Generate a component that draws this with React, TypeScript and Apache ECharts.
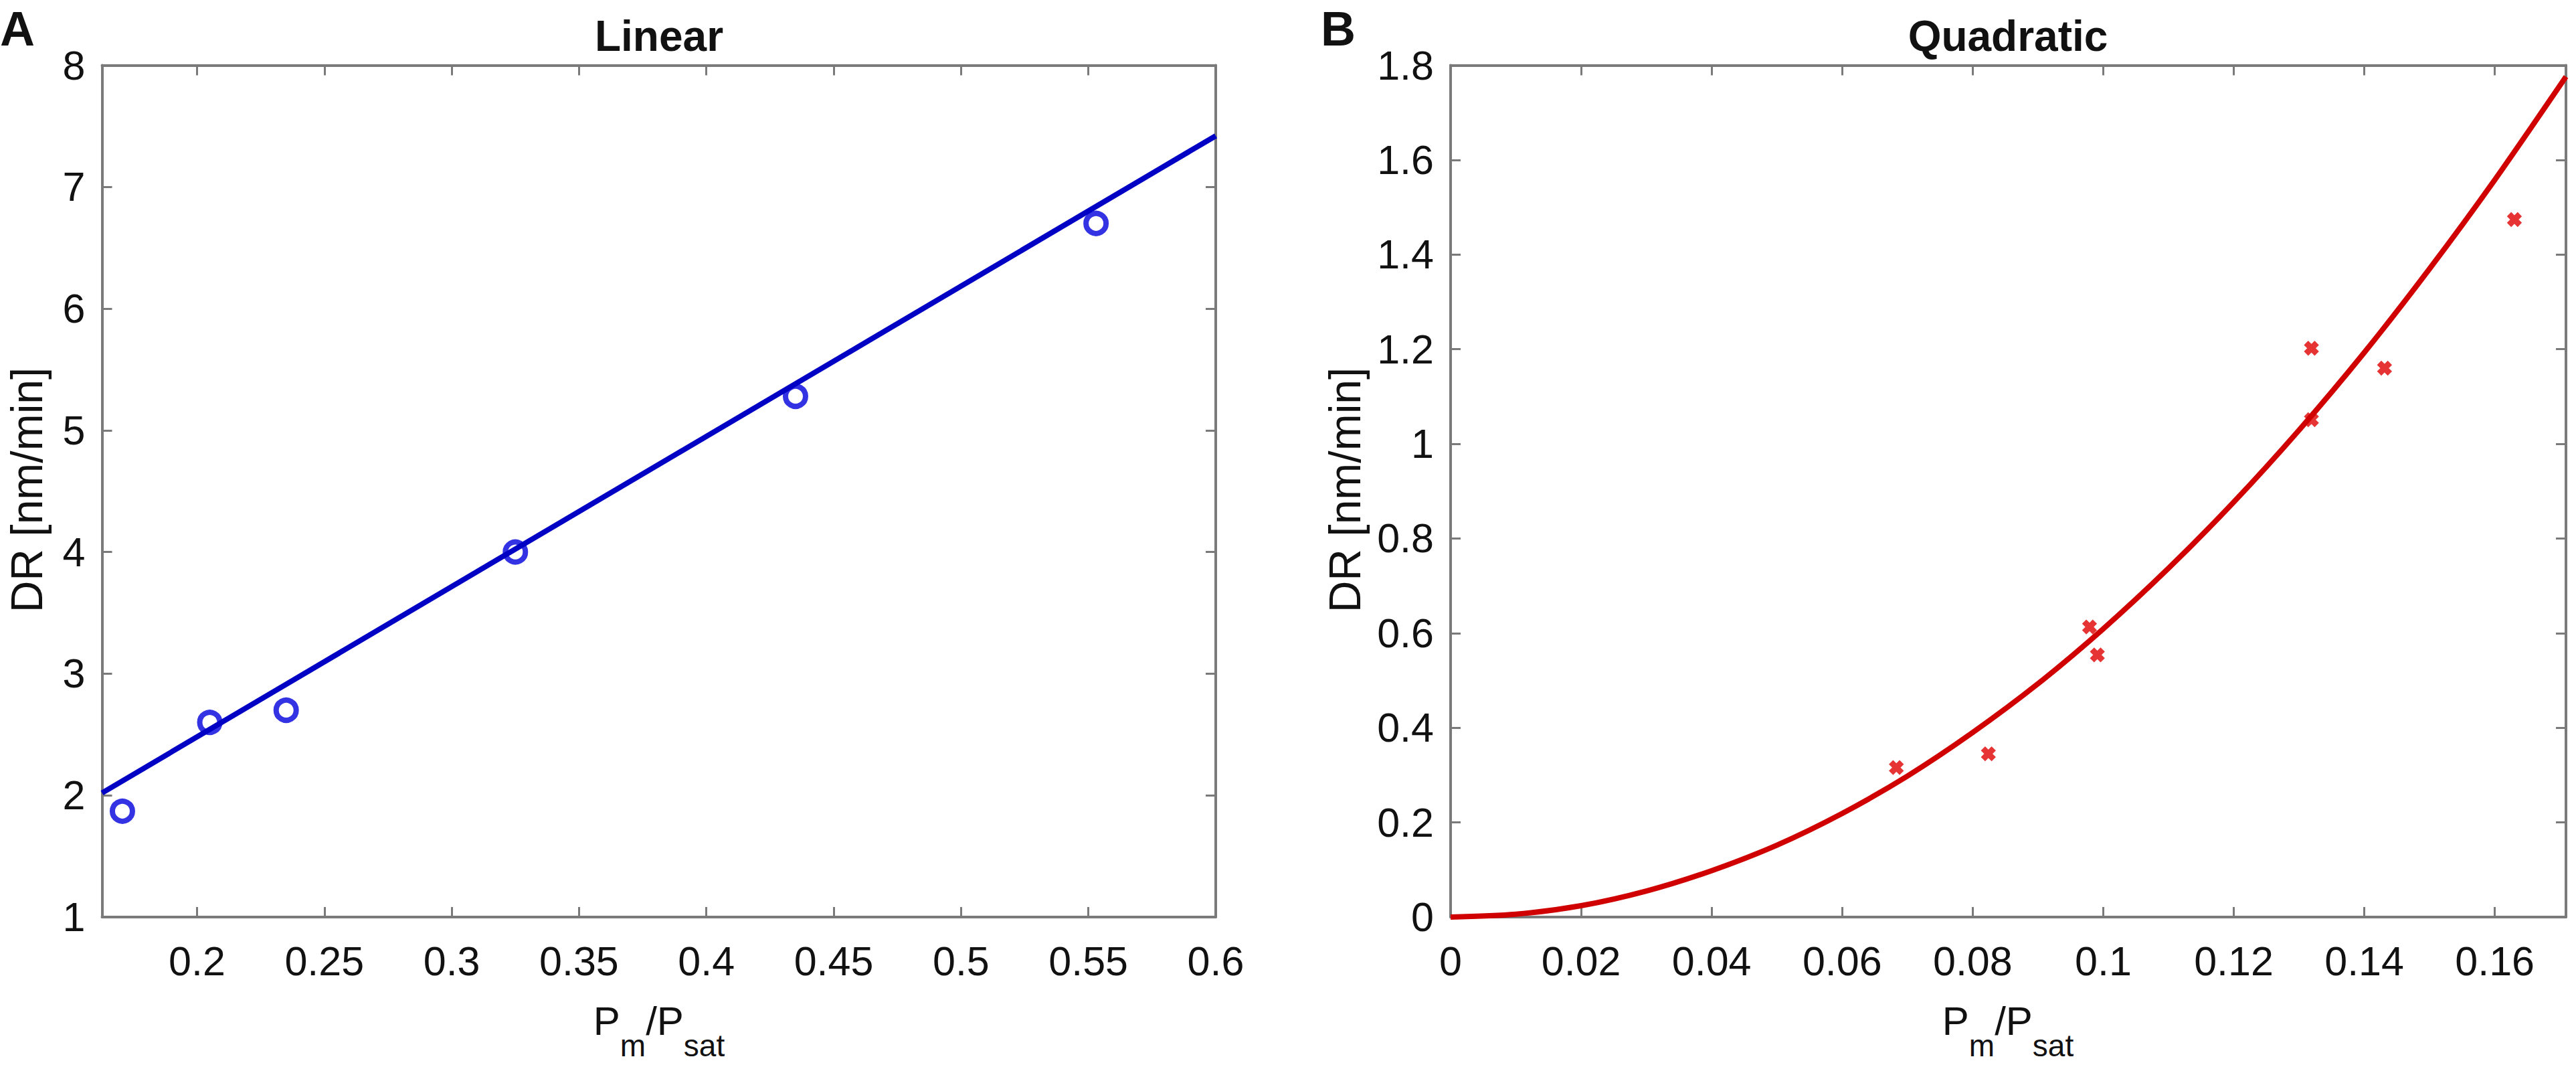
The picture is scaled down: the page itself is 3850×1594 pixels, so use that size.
import React, { useEffect, useRef } from 'react';
import * as echarts from 'echarts';

// ---------- data ----------
// Panel A – Linear
const linX = [0.1707, 0.205, 0.235, 0.325, 0.435, 0.553];
const linY = [1.87, 2.6, 2.7, 4.0, 5.28, 6.7];
const linFitX = [0.1627, 0.6];
const linFitY = [2.02, 7.42];

// Panel B – Quadratic
const quadX = [0.0683, 0.0824, 0.0979, 0.0991, 0.1319, 0.1319, 0.1431, 0.163];
const quadY = [0.316, 0.345, 0.613, 0.554, 1.202, 1.051, 1.16, 1.474];
const quadFitX = [0, 0.01, 0.02, 0.03, 0.04, 0.05, 0.06, 0.07, 0.08, 0.09, 0.1, 0.11, 0.12, 0.13, 0.14, 0.15, 0.16, 0.1709];
const quadFitY = [0, 0.006, 0.024, 0.055, 0.098, 0.152, 0.219, 0.298, 0.39, 0.493, 0.609, 0.737, 0.877, 1.029, 1.193, 1.37, 1.558, 1.776];

// tick labels
const xTicksA = [0.2, 0.25, 0.3, 0.35, 0.4, 0.45, 0.5, 0.55, 0.6];
const yTicksA = [1, 2, 3, 4, 5, 6, 7, 8];
const xTicksB = [0, 0.02, 0.04, 0.06, 0.08, 0.1, 0.12, 0.14, 0.16];
const yTicksB = [0, 0.2, 0.4, 0.6, 0.8, 1, 1.2, 1.4, 1.6, 1.8];

const titleA = 'Linear';
const titleB = 'Quadratic';
const yName = 'DR [nm/min]';

// ---------- styling ----------
const FONT = '"Liberation Sans", Arial, Helvetica, sans-serif';
const TEXT = '#111111';
const AXIS = '#7a7a7a';
const BLUE_LINE = '#0000c4';
const BLUE_MARK = '#0000dc';
const RED_LINE = '#d00000';
const RED_MARK = '#e00000';

const W = 3850;
const H = 1594;
const gridA = { left: 152.5, top: 97.5, width: 1664.5, height: 1272.5 };
const gridB = { left: 2168, top: 97.5, width: 1667, height: 1272.5 };

function fmt(ticks: number[]) {
  return (v: number) => {
    const t = ticks.find((k) => Math.abs(k - v) < 1e-6);
    return t === undefined ? '' : String(t);
  };
}

function axis(
  kind: 'x' | 'y',
  gridIndex: number,
  position: string,
  min: number,
  max: number,
  step: number,
  ticks: number[],
  showLabel: boolean,
  useInterval: boolean
) {
  const a: any = {
    type: 'value',
    gridIndex,
    position,
    min,
    max,
    axisLine: { show: true, onZero: false, lineStyle: { color: AXIS, width: 4 } },
    axisTick: { show: true, inside: true, length: 15, lineStyle: { color: AXIS, width: 3 } },
    axisLabel: {
      show: showLabel,
      margin: kind === 'x' ? 35 : 25,
      fontSize: 61,
      fontFamily: FONT,
      color: TEXT,
      formatter: fmt(ticks),
      showMinLabel: true,
      showMaxLabel: true,
      hideOverlap: false,
    },
    splitLine: { show: false },
    splitArea: { show: false },
  };
  if (useInterval) a.interval = step;
  else {
    a.minInterval = step;
    a.maxInterval = step;
  }
  return a;
}

const xLabelRich = {
  a: { fontSize: 60, lineHeight: 66, fontFamily: FONT, fill: TEXT, verticalAlign: 'top' },
  b: { fontSize: 46, lineHeight: 46, fontFamily: FONT, fill: TEXT, verticalAlign: 'top', padding: [44, 0, 0, 0] },
};

function txt(x: number, y: number, text: string, size: number, bold: boolean, align: string, rotation = 0) {
  return {
    type: 'text',
    x,
    y,
    rotation,
    style: {
      text,
      fontSize: size,
      fontWeight: bold ? 'bold' : 'normal',
      fontFamily: FONT,
      fill: TEXT,
      align,
      textAlign: align,
      verticalAlign: 'middle',
      textVerticalAlign: 'middle',
    },
  };
}

function xName(cx: number) {
  return {
    type: 'text',
    x: cx,
    y: 1495,
    style: {
      text: '{a|P}{b|m}{a|/P}{b|sat}',
      rich: xLabelRich,
      fontFamily: FONT,
      fill: TEXT,
      align: 'center',
      textAlign: 'center',
      verticalAlign: 'top',
      textVerticalAlign: 'top',
    },
  };
}

const option: any = {
  animation: false,
  backgroundColor: '#ffffff',
  textStyle: { fontFamily: FONT },
  grid: [
    { ...gridA, containLabel: false, outerBoundsMode: 'none', show: false },
    { ...gridB, containLabel: false, outerBoundsMode: 'none', show: false },
  ],
  xAxis: [
    axis('x', 0, 'bottom', 0.1627, 0.6, 0.05, xTicksA, true, false),
    axis('x', 0, 'top', 0.1627, 0.6, 0.05, xTicksA, false, false),
    axis('x', 1, 'bottom', 0, 0.1709, 0.02, xTicksB, true, false),
    axis('x', 1, 'top', 0, 0.1709, 0.02, xTicksB, false, false),
  ],
  yAxis: [
    axis('y', 0, 'left', 1, 8, 1, yTicksA, true, true),
    axis('y', 0, 'right', 1, 8, 1, yTicksA, false, true),
    axis('y', 1, 'left', 0, 1.8, 0.2, yTicksB, true, true),
    axis('y', 1, 'right', 0, 1.8, 0.2, yTicksB, false, true),
  ],
  series: [
    {
      type: 'scatter',
      xAxisIndex: 0,
      yAxisIndex: 0,
      data: linX.map((x, i) => [x, linY[i]]),
      symbol: 'circle',
      symbolSize: 30,
      itemStyle: { color: 'rgba(255,255,255,0)', borderColor: BLUE_MARK, borderWidth: 8 },
      z: 2,
    },
    {
      type: 'line',
      xAxisIndex: 0,
      yAxisIndex: 0,
      data: linFitX.map((x, i) => [x, linFitY[i]]),
      showSymbol: false,
      symbol: 'none',
      lineStyle: { color: BLUE_LINE, width: 8 },
      z: 3,
    },
    {
      type: 'scatter',
      xAxisIndex: 2,
      yAxisIndex: 2,
      data: quadX.map((x, i) => [x, quadY[i]]),
      symbol: 'path://M0 0L10 10M10 0L0 10',
      symbolSize: 16,
      itemStyle: { color: RED_MARK, borderColor: RED_MARK, borderWidth: 9 },
      z: 2,
    },
    {
      type: 'line',
      xAxisIndex: 2,
      yAxisIndex: 2,
      data: quadFitX.map((x, i) => [x, quadFitY[i]]),
      showSymbol: false,
      symbol: 'none',
      smooth: 0.3,
      lineStyle: { color: RED_LINE, width: 8 },
      z: 3,
    },
  ],
  graphic: [
    txt(0, 43, 'A', 72, true, 'left'),
    txt(1974, 43, 'B', 72, true, 'left'),
    txt(985, 54, titleA, 64, true, 'center'),
    txt(3001, 54, titleB, 64, true, 'center'),
    txt(40, 732, yName, 66, false, 'center', Math.PI / 2),
    txt(2010, 732, yName, 66, false, 'center', Math.PI / 2),
    xName(985),
    xName(3001),
  ],
};

export default function App() {
  const ref = useRef<HTMLDivElement>(null);
  useEffect(() => {
    const chart = echarts.init(ref.current!, undefined, { renderer: 'svg', width: W, height: H });
    chart.setOption(option);
    return () => chart.dispose();
  }, []);
  return (
    <div
      ref={ref}
      style={{ position: 'fixed', left: 0, top: 0, width: W, height: H, background: '#ffffff' }}
    />
  );
}
